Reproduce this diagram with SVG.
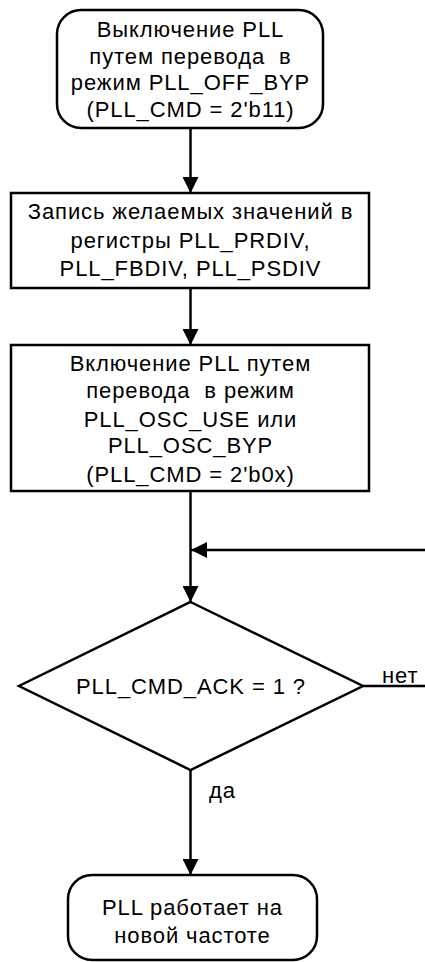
<svg xmlns="http://www.w3.org/2000/svg" width="425" height="962" viewBox="0 0 425 962">
<style>
.n{fill:#fff;stroke:#000;stroke-width:2.5}
.c{fill:none;stroke:#000;stroke-width:2.5}
text{font-family:"Liberation Sans",Arial,sans-serif;font-size:22px;letter-spacing:0.9px;fill:#000}
.m{text-anchor:middle}
.p{white-space:pre}
</style>
<defs>
<marker id="a" viewBox="0 0 16 16" refX="16" refY="8" markerWidth="16" markerHeight="16" markerUnits="userSpaceOnUse" orient="auto">
<path d="M0,0 L16,8 L0,16 Z" fill="#000"/>
</marker>
</defs>
<rect width="425" height="962" fill="#fff"/>
<g id="connectors">
<line class="c" x1="190.5" y1="128" x2="190.5" y2="193" marker-end="url(#a)"/>
<line class="c" x1="190.5" y1="288" x2="190.5" y2="345" marker-end="url(#a)"/>
<line class="c" x1="190.5" y1="491" x2="190.5" y2="602" marker-end="url(#a)"/>
<line class="c" x1="425" y1="550" x2="191" y2="550" marker-end="url(#a)"/>
<polyline class="c" points="363,686 425,686"/>
<line class="c" x1="190.5" y1="770" x2="190.5" y2="875" marker-end="url(#a)"/>
<text x="382" y="683">нет</text>
<text x="209" y="798">да</text>
</g>
<g id="n1">
<rect class="n" x="57" y="10" width="266" height="118" rx="24"/>
<text class="m" x="190.5" y="37">Выключение PLL</text>
<text class="m p" x="190.5" y="63.5" xml:space="preserve">путем перевода  в</text>
<text class="m" x="190.5" y="90">режим PLL_OFF_BYP</text>
<text class="m" x="190.5" y="116.5">(PLL_CMD = 2'b11)</text>
</g>
<g id="n2">
<rect class="n" x="11" y="193" width="358" height="95"/>
<text class="m" x="190.5" y="219">Запись желаемых значений в</text>
<text class="m" x="190.5" y="248">регистры PLL_PRDIV,</text>
<text class="m" x="190.5" y="276">PLL_FBDIV, PLL_PSDIV</text>
</g>
<g id="n3">
<rect class="n" x="11" y="345" width="358" height="146"/>
<text class="m" x="190.5" y="371">Включение PLL путем</text>
<text class="m p" x="190.5" y="398" xml:space="preserve">перевода  в режим</text>
<text class="m" x="190.5" y="426.5">PLL_OSC_USE или</text>
<text class="m" x="190.5" y="453">PLL_OSC_BYP</text>
<text class="m" x="190.5" y="481.5">(PLL_CMD = 2'b0x)</text>
</g>
<g id="n4">
<polygon class="n" points="190.5,602 363,686 190.5,770 19,686"/>
<text class="m" x="191" y="694">PLL_CMD_ACK = 1 ?</text>
</g>
<g id="n5">
<rect class="n" x="68" y="875" width="249" height="85" rx="24"/>
<text class="m" x="192.5" y="915">PLL работает на</text>
<text class="m" x="192.5" y="942.5">новой частоте</text>
</g>
</svg>
